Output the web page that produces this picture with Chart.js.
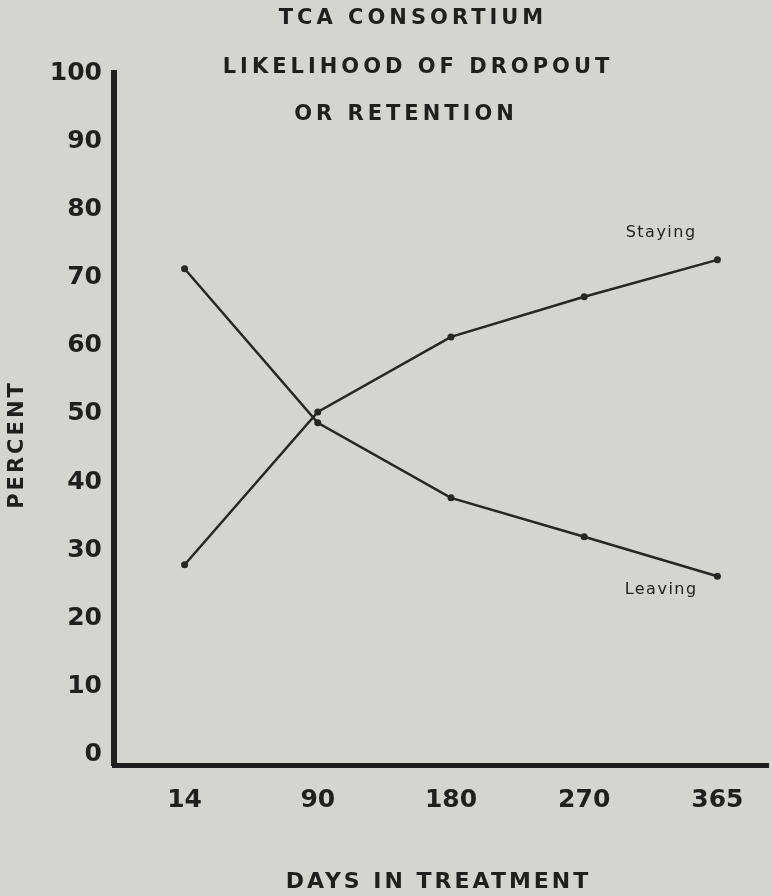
<!DOCTYPE html>
<html lang="en">
  <head>
    <meta charset="UTF-8" />
    <title>TCA Consortium</title>
    <script src="https://cdn.jsdelivr.net/npm/chart.js@4.4.0/dist/chart.umd.min.js"></script>
    <style>
      html, body { margin: 0; padding: 0; background: #d4d5d0; }
      #wrap { width: 772px; height: 896px; }
    </style>
  </head>
  <body>
    <div id="wrap">
      <canvas id="tcaChart" width="772" height="896"></canvas>
    </div>

    <script>
      // values
      const dayLabels = ["14", "90", "180", "270", "365"];
      const staying = [27.9, 50.3, 61.3, 67.2, 72.6];
      const leaving = [71.3, 48.7, 37.7, 32.0, 26.2];
      const percentTicks = [0, 10, 20, 30, 40, 50, 60, 70, 80, 90, 100];
      const titleLines = ["TCA CONSORTIUM", "LIKELIHOOD OF DROPOUT", "OR RETENTION"];

      const INK = "#1f1f1f";
      const BOLD = "bold 25px 'DejaVu Sans'";

      function spacedText(ctx, text, x, y, font, spacing) {
        ctx.save();
        ctx.font = font;
        ctx.letterSpacing = spacing + "px";
        ctx.fillStyle = INK;
        ctx.textAlign = "center";
        ctx.textBaseline = "middle";
        ctx.fillText(text, x + spacing / 2, y);
        ctx.restore();
      }

      const paperPlugin = {
        id: "paper",
        beforeDraw(chart) {
          const ctx = chart.ctx;
          ctx.save();
          ctx.fillStyle = "#d4d5d0";
          ctx.fillRect(0, 0, chart.width, chart.height);
          ctx.restore();
        },
        afterDraw(chart) {
          const ctx = chart.ctx;
          const xs = chart.scales.x;
          const ys = chart.scales.y;

          // title block
          spacedText(ctx, titleLines[0], 411, 19, "bold 21px 'DejaVu Sans'", 4);
          spacedText(ctx, titleLines[1], 416, 68, "bold 21px 'DejaVu Sans'", 4);
          spacedText(ctx, titleLines[2], 404, 115, "bold 21px 'DejaVu Sans'", 4);

          // axis titles
          spacedText(ctx, "DAYS IN TREATMENT", 437, 882, "bold 22px 'DejaVu Sans'", 3);
          ctx.save();
          ctx.translate(18, 446);
          ctx.rotate(-Math.PI / 2);
          spacedText(ctx, "PERCENT", 0, 0, "bold 21px 'DejaVu Sans'", 3);
          ctx.restore();

          // series names next to the last points
          const last = dayLabels.length - 1;
          const px = xs.getPixelForValue(last);
          spacedText(ctx, "Staying", px - 57, ys.getPixelForValue(staying[last]) - 27, "16px 'DejaVu Sans'", 1.5);
          spacedText(ctx, "Leaving", px - 57, ys.getPixelForValue(leaving[last]) + 14, "16px 'DejaVu Sans'", 1.5);
        }
      };

      const toPoints = (arr) => arr.map((v, i) => ({ x: i, y: v }));

      const lineStyle = {
        borderColor: "#262626",
        backgroundColor: "#262626",
        borderWidth: 2.5,
        pointRadius: 3.5,
        pointBorderWidth: 0,
        tension: 0,
        fill: false
      };

      new Chart(document.getElementById("tcaChart"), {
        type: "line",
        data: {
          datasets: [
            Object.assign({ label: "Staying", data: toPoints(staying) }, lineStyle),
            Object.assign({ label: "Leaving", data: toPoints(leaving) }, lineStyle)
          ]
        },
        options: {
          responsive: false,
          animation: false,
          devicePixelRatio: 1,
          layout: { padding: { top: 73, right: 0, bottom: 0, left: 0 } },
          plugins: {
            legend: { display: false },
            title: { display: false },
            tooltip: { enabled: false }
          },
          scales: {
            x: {
              type: "linear",
              min: -0.53,
              max: 4.38,
              afterBuildTicks(scale) {
                scale.ticks = dayLabels.map((d, i) => ({ value: i }));
              },
              afterFit(scale) {
                scale.height = 131;
              },
              ticks: {
                color: INK,
                font: { family: "'DejaVu Sans'", size: 25, weight: "bold" },
                padding: 20,
                maxRotation: 0,
                callback: (v) => dayLabels[v]
              },
              grid: { color: "transparent", drawTicks: false },
              border: { display: true, color: INK, width: 5 }
            },
            y: {
              min: -1.47,
              max: 100,
              afterBuildTicks(scale) {
                scale.ticks = percentTicks.map((v) => ({ value: v }));
              },
              afterFit(scale) {
                scale.width = 114;
              },
              ticks: {
                color: INK,
                font: { family: "'DejaVu Sans'", size: 25, weight: "bold" },
                padding: 12
              },
              grid: { color: "transparent", drawTicks: false },
              border: { display: true, color: INK, width: 6 }
            }
          }
        },
        plugins: [paperPlugin]
      });
    </script>
  </body>
</html>
